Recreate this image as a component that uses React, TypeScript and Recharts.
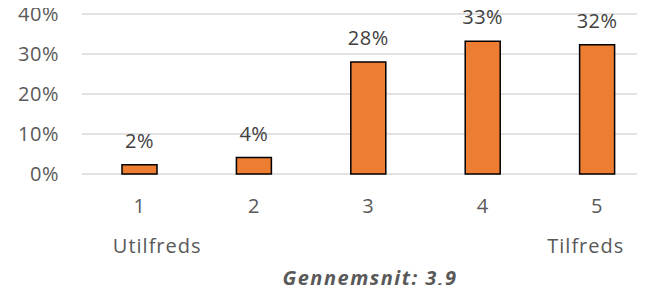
import { Bar, BarChart, CartesianGrid, LabelList, XAxis, YAxis } from "recharts"

const categories = ["1", "2", "3", "4", "5"]
const shares = [2.3, 4.1, 28.0, 33.2, 32.3]
const yTicks = [0, 10, 20, 30, 40]
const endLabels: Record<string, { text: string; dx: number }> = {
  "1": { text: "Utilfreds", dx: 18 },
  "5": { text: "Tilfreds", dx: -11 },
}
const averageText = "Gennemsnit: 3,9"

const data = categories.map((name, i) => ({ name, share: shares[i] }))

const font = "'Open Sans', sans-serif"

function XTick(props: any) {
  const { x, y, payload } = props
  const end = endLabels[payload.value]
  return (
    <g>
      <text x={x} y={y + 39} textAnchor="middle" fill="#595959" fontSize={20} fontFamily={font}>
        {payload.value}
      </text>
      {end && (
        <text
          x={x + end.dx}
          y={y + 79}
          textAnchor="middle"
          fill="#595959"
          fontSize={20}
          letterSpacing={1}
          fontFamily={font}
        >
          {end.text}
        </text>
      )}
    </g>
  )
}

export default function App() {
  return (
    <div style={{ position: "relative", margin: -8, width: 645, height: 293, overflow: "hidden", background: "#fff" }}>
      <BarChart
        width={660}
        height={293}
        data={data}
        margin={{ top: 14, right: 6, left: 0, bottom: 0 }}
        barCategoryGap="0%"
      >
        <CartesianGrid vertical={false} stroke="#D9D9D9" strokeWidth={1.3} />
        <XAxis
          dataKey="name"
          axisLine={false}
          tickLine={false}
          height={119}
          tickSize={0}
          tickMargin={0}
          interval={0}
          tick={<XTick />}
        />
        <YAxis
          width={82}
          domain={[0, 40]}
          ticks={yTicks}
          axisLine={false}
          tickLine={false}
          tickSize={0}
          tickMargin={23}
          tickFormatter={(v) => `${v}%`}
          tick={{ fill: "#595959", fontSize: 20, fontFamily: font, letterSpacing: 0.5 }}
        />
        <Bar dataKey="share" fill="#ED7D31" stroke="#000" strokeWidth={1.5} barSize={35} isAnimationActive={false}>
          <LabelList
            dataKey="share"
            position="top"
            offset={17}
            formatter={(v: any) => `${Math.round(v)}%`}
            style={{ fill: "#404040", fontSize: 20, fontFamily: font, letterSpacing: 0.5 }}
          />
        </Bar>
      </BarChart>
      <div
        style={{
          position: "absolute",
          left: 370,
          top: 277,
          transform: "translate(-50%, -50%)",
          fontFamily: font,
          fontSize: 20,
          fontWeight: 700,
          fontStyle: "italic",
          letterSpacing: 1.5,
          color: "#595959",
          whiteSpace: "nowrap",
        }}
      >
        {averageText}
      </div>
    </div>
  )
}
